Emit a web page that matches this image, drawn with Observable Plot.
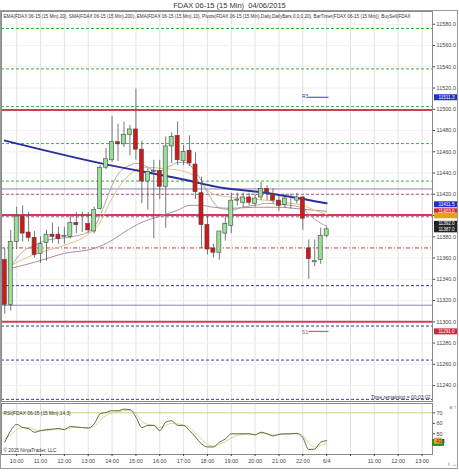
<!DOCTYPE html>
<html>
<head>
<meta charset="utf-8">
<script src="https://cdn.jsdelivr.net/npm/d3@7"></script>
<script src="https://cdn.jsdelivr.net/npm/@observablehq/plot@0.6"></script>
<style>
  body { margin: 0; background: #fff; }
  #wrap { position: relative; width: 459px; height: 475px; font-family: "Liberation Sans", Arial, sans-serif; overflow: hidden; }
  #title { height: 10px; line-height: 11px; font-size: 7.5px; text-align: center; color: #333; white-space: pre; }
  #frame { position: absolute; left: 0; top: 10px; width: 456px; height: 457px; border: 1px solid #9a9a9a; pointer-events: none; }
  svg { display: block; }
</style>
</head>
<body>
<div id="wrap">
  <div id="title">FDAX 06-15 (15 Min)  04/06/2015</div>
  <div id="main"></div>
  <div id="rsi"></div>
  <div id="frame"></div>
</div>
<script>
// ---- data (15-min bars, index 0..54) ----
const barOpen  = [11358,11316,11375,11399,11384,11379,11364,11374,11382,11382,11380,11380,11393,11392,11392,11385,11406,11445,11452,11469,11467,11476,11481,11462,11432,11441,11442,11427,11465,11475,11451,11461,11448,11421,11391,11369,11365,11383,11390,11414,11412,11417,11411,11417,11425,11420,11414,11410,11414,11414,11417,11369,11356,11358,11381];
const barHigh  = [11369,11386,11408,11409,11403,11385,11380,11386,11393,11389,11389,11399,11403,11403,11403,11408,11447,11463,11493,11486,11488,11485,11519,11470,11444,11452,11452,11474,11478,11488,11466,11475,11459,11436,11399,11373,11384,11400,11421,11421,11421,11421,11420,11431,11428,11425,11418,11420,11420,11421,11418,11377,11377,11388,11389];
const barLow   = [11307,11310,11368,11375,11375,11360,11355,11357,11374,11373,11373,11378,11383,11384,11383,11383,11405,11443,11450,11451,11464,11456,11452,11411,11405,11378,11415,11388,11449,11447,11447,11446,11415,11369,11363,11360,11358,11376,11383,11409,11407,11409,11408,11414,11414,11411,11404,11407,11406,11411,11386,11340,11352,11354,11379];
const barClose = [11316,11375,11399,11383,11379,11363,11373,11382,11380,11378,11381,11393,11391,11392,11386,11405,11445,11453,11469,11467,11476,11481,11462,11432,11441,11442,11427,11465,11474,11452,11460,11449,11422,11391,11368,11365,11385,11392,11414,11415,11417,11412,11416,11425,11421,11414,11409,11416,11414,11417,11397,11359,11357,11381,11387];

// moving averages, read at selected bars
const smaIdx = [0, 16, 29, 37, 43, 54];
const smaVal = [11470.5, 11449.3, 11435, 11425.6, 11422, 11411.5];
const fastIdx = [1,3,5,7,11,14,15,16,17,18,19,20,21,22,23,24,25,26,27,28,29,30,31,32,33,34,35,36,37,38,40,42,44,46,48,50,51,52,53,54];
const fastVal = [11352,11366,11372,11376.7,11379.8,11384.5,11389,11400,11414,11428.5,11439,11444.5,11447.3,11449.2,11448.2,11445.4,11442.6,11441.7,11444.5,11447.3,11450,11450,11448,11440.7,11433,11422,11412.5,11407,11406,11405,11408,11409.6,11411.5,11410.6,11409.6,11407,11401,11396.5,11392.7,11390];
const midIdx = [1,5,10,14,16,17,18,19,20,21,22,24,26,28,30,32,33,34,35,37,40,44,48,50,52,54];
const midVal = [11353,11363.5,11372,11382.3,11393.6,11405,11416.2,11425.6,11433,11438.8,11442.6,11445.4,11444.5,11443.5,11441.7,11436,11428.5,11423.8,11420,11418,11416,11414.3,11411.5,11409.6,11405,11401];
const slowIdx = [1,5,10,15,18,20,23,26,29,31,33,35,38,42,46,50,54];
const slowVal = [11350.3,11356,11364.4,11369,11376.7,11384.2,11393.6,11399.3,11405,11409.6,11409.6,11407.8,11406.8,11407.8,11407.8,11405.9,11404];

// pivot levels
const greenDashed   = [11576, 11538, 11502.5, 11467.7, 11432.4];
const redSolid      = [11499.4, 11400.4, 11300];
const purpleSolid   = [11425, 11315.6];
const magentaDashed = [11420, 11398.8];
const redDashed     = [11369.5];
const blueDashed    = [11334, 11296, 11264, 11227];
const r3Value = 11511.3, s1Value = 11291.0;

// right-axis price markers
const markerValues = [11511.3, 11410.6, 11404.0, 11400.2, 11392.2, 11387.0, 11291.0];
const markerLabels = ["11511.3", "11411.5", "11403.0", "", "11392.0", "11387.0", "11291.0"];

// RSI (14,3) and its signal
const rsiVal = [42,53,59,56,55,51.5,53,54,54.5,55,54,57,56.5,56,55.5,59.5,69,70.5,72,72,73.5,73,66,56,58,58,53,61,62.5,58,58,53,47,40.5,37.5,37.5,42,45,50,50,50,50,49,51.5,50,48,49.5,50,50,50.5,46.5,35,35.5,42,43.5];
const sigVal = [45,49,54,56,56,54,53,53,54,54.5,54.5,55.5,56,56,55.5,57,63,67.5,70,71,72,72.5,69,62,59,58,56,58,60,59.5,58.5,56,51,45,40,38.5,40,42.5,46,48.5,49.5,50,49.5,50.5,50,49,49.5,49.5,50,50,48.5,41,37.5,39,41];

// axis ticks
const priceTicks = [11240,11260,11280,11300,11320,11340,11360,11380,11400,11420,11440,11460,11480,11500,11520,11540,11560,11580];
const timeTickPos = [2,6,10,14,18,22,26,30,34,38,42,46,50,54,58,62,66,70];
const timeTickLabels = ["10:00","11:00","12:00","13:00","14:00","15:00","16:00","17:00","18:00","19:00","20:00","21:00","22:00","6/4","","11:00","12:00","13:00"];
const rsiTicks = [50, 60, 70];

const legendText = "EMA(FDAX 06-15 (15 Min),20), SMA(FDAX 06-15 (15 Min),200), EMA(FDAX 06-15 (15 Min),10), Pivots(FDAX 06-15 (15 Min),Daily,DailyBars,0,0,0,20), BarTimer(FDAX 06-15 (15 Min)), BuySell(FDAX";

// ---- build tables ----
const bars = barOpen.map((o, i) => ({i, open: o, high: barHigh[i], low: barLow[i], close: barClose[i]}));
const toPts = (idx, val) => idx.map((i, k) => ({i, v: val[k]}));
const sma = toPts(smaIdx, smaVal), fast = toPts(fastIdx, fastVal), mid = toPts(midIdx, midVal), slow = toPts(slowIdx, slowVal);
const rsi = rsiVal.map((v, i) => ({i, v}));
const sig = sigVal.map((v, i) => ({i, v}));
const labelOf = new Map(timeTickPos.map((p, k) => [p, timeTickLabels[k]]));
const markers = markerValues.map((v, k) => ({v, label: markerLabels[k], k}));
const markerColors = ["#1f2fd0", "#1f2fd0", "#d0283a", "#e8a020", "#222", "#222", "#d0283a"];

const xDomain = [-0.55, 71.76];
const font = "Liberation Sans, Arial, sans-serif";

const main = Plot.plot({
  width: 459, height: 392,
  marginLeft: 1, marginRight: 27, marginTop: 1, marginBottom: 1,
  style: {fontFamily: font, background: "transparent", overflow: "visible"},
  x: {domain: xDomain, axis: null},
  y: {domain: [11225, 11592]},
  marks: [
    Plot.gridX(timeTickPos, {stroke: "#e2e2e2", strokeOpacity: 1}),
    Plot.gridY(priceTicks, {stroke: "#f0f0f0", strokeOpacity: 1}),
    Plot.ruleY(greenDashed, {stroke: "#3fae3f", strokeWidth: 1, strokeDasharray: "3,2"}),
    Plot.ruleY(purpleSolid, {stroke: "#8c84b0", strokeWidth: 1}),
    Plot.ruleY(magentaDashed, {stroke: "#b0509a", strokeWidth: 1, strokeDasharray: "3,2"}),
    Plot.ruleY(redDashed, {stroke: "#c83c3c", strokeWidth: 1, strokeDasharray: "4,2,1,2"}),
    Plot.ruleY(blueDashed, {stroke: "#3a3aa8", strokeWidth: 1, strokeDasharray: "3,2"}),
    Plot.ruleY(redSolid, {stroke: "#cc4050", strokeWidth: 2}),
    Plot.line(slow, {x: "i", y: "v", stroke: "#b08a9a", strokeWidth: 1, curve: "monotone-x"}),
    Plot.line(mid, {x: "i", y: "v", stroke: "#e8c088", strokeWidth: 1, curve: "monotone-x"}),
    Plot.line(fast, {x: "i", y: "v", stroke: "#a8a8a8", strokeWidth: 1, curve: "monotone-x"}),
    Plot.line(sma, {x: "i", y: "v", stroke: "#2b2f9a", strokeWidth: 2, curve: "monotone-x"}),
    Plot.ruleX(bars, {x: "i", y1: "low", y2: "high", stroke: "#555", strokeWidth: 0.8}),
    Plot.rect(bars, {x1: d => d.i - 0.34, x2: d => d.i + 0.34, y1: "open", y2: "close",
      fill: d => d.close >= d.open ? "#98e098" : "#d01818", stroke: "#444", strokeWidth: 0.6}),
    Plot.ruleY([r3Value], {x1: 51, x2: 54.4, stroke: "#3a3ac0", strokeWidth: 1}),
    Plot.text(["R3"], {x: 50.4, y: r3Value, text: d => d, fontSize: 5, fill: "#3a3ac0", dy: -1}),
    Plot.ruleY([s1Value], {x1: 51, x2: 54.4, stroke: "#cc4050", strokeWidth: 1}),
    Plot.text(["S1"], {x: 50.4, y: s1Value, text: d => d, fontSize: 5, fill: "#cc4050", dy: 1}),
    Plot.frame({stroke: "#8a8a8a"}),
    Plot.axisY(priceTicks, {anchor: "right", tickFormat: d3.format(".1f"), fontSize: 5.5, tickSize: 2, tickPadding: 2, color: "#444"}),
    Plot.ruleY(markers, {y: "v", stroke: d => markerColors[d.k], strokeWidth: 6, insetLeft: 433, insetRight: -25}),
    Plot.text(markers, {y: "v", text: "label", frameAnchor: "right", textAnchor: "middle", dx: 14, fill: "white", fontSize: 4.6}),
    Plot.text([legendText], {frameAnchor: "top-left", textAnchor: "start", text: d => d, dx: 2, dy: 3, fontSize: 4.6, fill: "#333"}),
    Plot.text(["Time remaining = 00:03:02"], {frameAnchor: "bottom-right", textAnchor: "end", text: d => d, dx: -2, dy: -3, fontSize: 5, fill: "#333"})
  ]
});
document.getElementById("main").appendChild(main);

const rsiPlot = Plot.plot({
  width: 459, height: 66,
  marginLeft: 1, marginRight: 27, marginTop: 1, marginBottom: 14,
  style: {fontFamily: font, background: "transparent", overflow: "visible"},
  x: {domain: xDomain},
  y: {domain: [30.3, 78.9]},
  marks: [
    Plot.gridX(timeTickPos, {stroke: "#e2e2e2", strokeOpacity: 1}),
    Plot.ruleY([70], {stroke: "#cfcf70", strokeWidth: 1}),
    Plot.line(sig, {x: "i", y: "v", stroke: "#d8d890", strokeWidth: 1, curve: "monotone-x"}),
    Plot.line(rsi, {x: "i", y: "v", stroke: "#5a6a40", strokeWidth: 1, curve: "monotone-x"}),
    Plot.frame({stroke: "#8a8a8a"}),
    Plot.axisY(rsiTicks, {anchor: "right", fontSize: 5.5, tickSize: 2, tickPadding: 2, color: "#444"}),
    Plot.axisX(timeTickPos, {tickFormat: d => labelOf.get(d), fontSize: 5.5, tickSize: 2, tickPadding: 3, color: "#444"}),
    Plot.ruleY([41.8], {stroke: "#2e8a2e", strokeWidth: 7, insetLeft: 431, insetRight: -12}),
    Plot.ruleY([43.4], {stroke: "#e8a020", strokeWidth: 6, insetLeft: 433, insetRight: -10}),
    Plot.text(["43.5"], {y: 43, text: d => d, frameAnchor: "right", textAnchor: "middle", dx: 8, fill: "#333", fontSize: 4.5}),
    Plot.text(["RSI(FDAX 06-15 (15 Min),14,3)"], {frameAnchor: "top-left", textAnchor: "start", text: d => d, dx: 2, dy: 8, fontSize: 4.8, fill: "#333"}),
    Plot.text(["© 2015 NinjaTrader, LLC"], {frameAnchor: "bottom-left", textAnchor: "start", text: d => d, dx: 2, dy: -3, fontSize: 4.8, fill: "#333"})
  ]
});
document.getElementById("rsi").appendChild(rsiPlot);
</script>
</body>
</html>
